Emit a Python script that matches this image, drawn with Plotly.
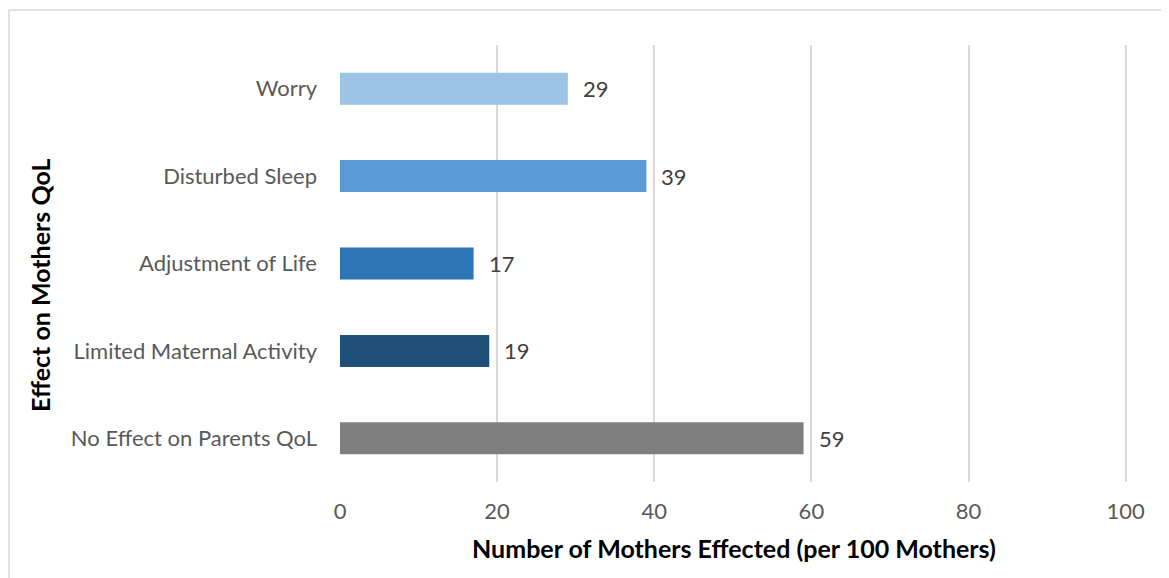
import plotly.graph_objects as go

categories = ["No Effect on Parents QoL", "Limited Maternal Activity", "Adjustment of Life", "Disturbed Sleep", "Worry"]
values = [59, 19, 17, 39, 29]
colors = ["#7f7f7f", "#1f4e79", "#2e75b6", "#5b9bd5", "#9dc3e6"]
x_ticks = [0, 20, 40, 60, 80, 100]

FONT = "Lato, Open Sans, sans-serif"

fig = go.Figure()
fig.add_trace(go.Bar(
    y=categories, x=values, orientation="h",
    marker=dict(color=colors, line=dict(width=0)),
    hoverinfo="x+y",
))

for c, v in zip(categories, values):
    fig.add_annotation(x=v, y=c, text=str(v), showarrow=False, xanchor="left",
                       xshift=13, font=dict(family=FONT, size=22, color="#404040"))

OFF = 8  # page body margin
W, H = 1169, 578
ml, mr, mt, mb = 340 - OFF, 49, 45 - OFF, 96 + OFF
pw, ph = W - ml - mr, H - mt - mb
bx = (9 - OFF - ml) / pw
by = 1 + (mt - (10 - OFF)) / ph
fig.add_shape(type="line", xref="paper", yref="paper", x0=bx, x1=bx, y0=-0.5, y1=by,
              line=dict(color="#d9d9d9", width=1.5))
fig.add_shape(type="line", xref="paper", yref="paper", x0=bx, x1=1.2, y0=by, y1=by,
              line=dict(color="#d9d9d9", width=1.5))

# y-axis title (as annotation to match its offset position)
ty_x = (40 - OFF - ml) / pw
ty_y = 1 - (286 - OFF - mt) / ph
fig.add_annotation(xref="paper", yref="paper", x=ty_x, y=ty_y, xanchor="center", yanchor="middle",
                   text="<b>Effect on Mothers QoL</b>", textangle=-90, showarrow=False,
                   font=dict(family=FONT, size=25, color="#000000"))

fig.update_layout(
    width=W, height=H,
    margin=dict(l=ml, r=mr, t=mt, b=mb, pad=0),
    paper_bgcolor="white", plot_bgcolor="white",
    bargap=0.634,
    showlegend=False,
    font=dict(family=FONT, color="#595959"),
    xaxis=dict(
        range=[0, 100.3], tickvals=x_ticks, showgrid=True, gridcolor="#d9d9d9", gridwidth=1.5,
        zeroline=False, showline=False, ticks="",
        tickfont=dict(family=FONT, size=22, color="#595959"),
        ticklabelstandoff=14,
        title=dict(text="<b>Number of Mothers Effected (per 100 Mothers)</b>",
                   font=dict(family=FONT, size=25, color="#000000"), standoff=17),
    ),
    yaxis=dict(
        categoryorder="array", categoryarray=categories,
        showgrid=False, zeroline=False, showline=False, ticks="",
        tickfont=dict(family=FONT, size=22, color="#595959"),
        ticklabelstandoff=22,
    ),
)
fig.write_html("out.html")
